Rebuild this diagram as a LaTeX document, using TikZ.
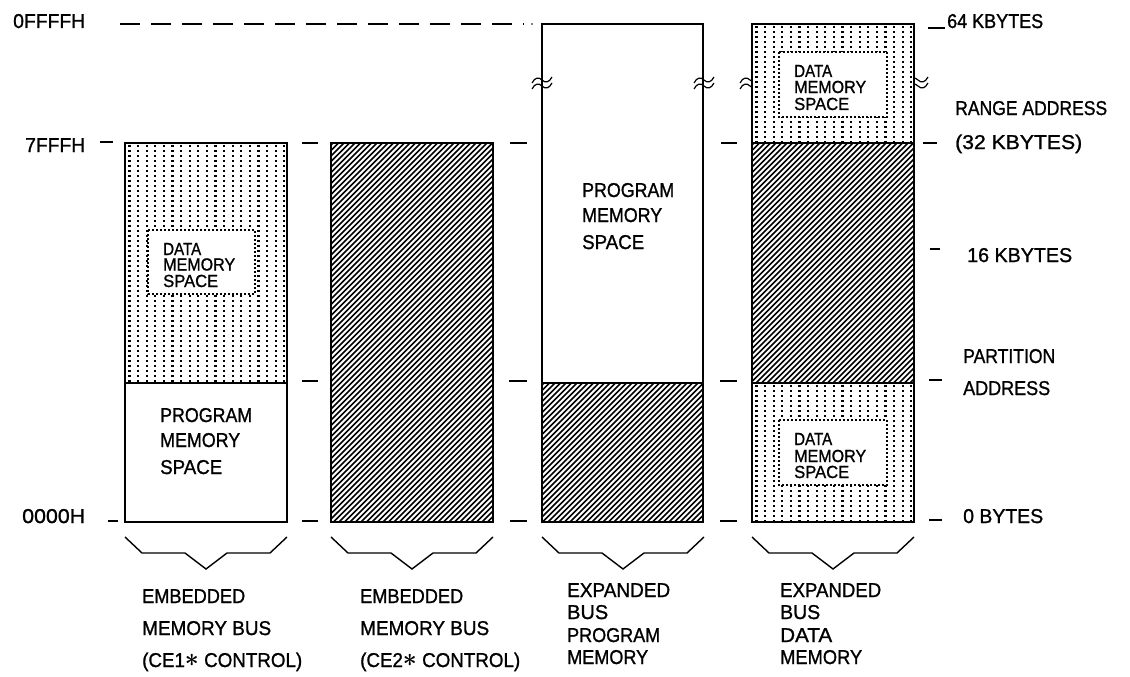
\documentclass[tikz,border=0pt]{standalone}
\usepackage{fontspec}
\usepackage{graphicx}
\setmainfont{Liberation Sans}[FakeBold=1.1]
\makeatletter
\newdimen\fwdim
\newcommand\fitw[2]{\sbox0{#2}\fwdim=\wd0\scalebox{\fpeval{#1/\strip@pt\fwdim}}[1]{\usebox0}}
\makeatother
\newcommand\astr{\raisebox{0.05ex}{\scalebox{1.25}{$\boldsymbol{\ast}$}}}
\usepackage{amsmath}
\newcommand\dotsarea[4]{%
  \begin{scope}
    \clip (#1,#2) rectangle (#3,#4);
    \pgfmathtruncatemacro\ndx{(#3-#1)/8.6}
    \pgfmathtruncatemacro\ndy{(#4-#2)/5}
    \foreach \i in {0,...,\ndx}{\foreach \j in {0,...,\ndy}{%
      \fill ({#1+3.3+\i*8.6},{#2+1.8+\j*5}) rectangle ++(2.2,2.2);}}
  \end{scope}}
\newcommand\hatcharea[4]{%
  \begin{scope}
    \clip (#1,#2) rectangle (#3,#4);
    \pgfmathsetmacro\hh{#4-#2}
    \pgfmathtruncatemacro\nh{((#3-#1)+(#4-#2))/5.5+1}
    \foreach \i in {0,...,\nh}{%
      \draw[line width=1.7pt] ({#1-\hh+\i*5.5},{#4+2}) -- ++({\hh+4},{-\hh-4});}
  \end{scope}}
\newcommand\wavy[2]{%
  \begin{scope}[shift={(#1,#2)}]
    \draw[wav] (-10,0) .. controls (-7,-6) and (-3,-6) .. (0,-3) .. controls (3,0) and (7,0) .. (10,-6);
    \draw[wav] (-10,6) .. controls (-7,0) and (-3,0) .. (0,3) .. controls (3,6) and (7,6) .. (10,0);
  \end{scope}}
\newcommand\bracket[1]{%
  \draw[line width=1.4pt,line join=miter] (#1,537) -- ++(17,16) -- ++(43,0) -- ++(21,16) -- ++(21,-16) -- ++(43,0) -- ++(17,-16);}
\begin{document}
\begin{tikzpicture}[x=1pt,y=-1pt,
  lab/.style={anchor=base west,inner sep=0pt,font=\fontsize{20}{20}\selectfont},
  sml/.style={anchor=base west,inner sep=0pt,font=\fontsize{17.5}{17.5}\selectfont},
  box/.style={line width=1.8pt},
  tick/.style={line width=1.6pt},
  wav/.style={line width=1.2pt},
  innerbox/.style={fill=white,line width=1.3pt,dash pattern=on 1.6pt off 2.4pt}]
\useasboundingbox[fill=white] (0,0) rectangle (1130,677);

% top dashed line
\draw[tick,dash pattern=on 20pt off 11pt] (120,24) -- (524,24);
\fill (532,24) circle (0.9);

% ticks
\foreach \a/\b/\y in {100/113/142, 302/318/143, 510/527/143, 721/737/143, 923/937/143,
  302/318/381, 509/527/381, 720/737/381, 929/942/380,
  108/118/521, 302/318/521, 510/527/521, 720/737/521, 929/942/520,
  930/940/249, 928/945/28}
  \draw[tick] (\a,\y) -- (\b,\y);

% column 4 wavy marks (hidden inside the box)
\wavy{750}{83}
\wavy{918}{83}
\fill[white] (752,24) rectangle (914,522);

% fills
\dotsarea{125}{143}{287}{383}
\dotsarea{752}{24}{914}{143}
\dotsarea{752}{383}{914}{522}
\hatcharea{331}{143}{493}{522}
\hatcharea{542}{383}{703}{522}
\hatcharea{752}{143}{914}{383}

% inner data boxes
\draw[innerbox] (148,230) rectangle (255,294);
\draw[innerbox] (779,52) rectangle (887,117);
\draw[innerbox] (779,420) rectangle (887,485);

% outer boxes
\draw[box] (125,143) rectangle (287,522);
\draw[box] (125,383) -- (287,383);
\draw[box] (331,143) rectangle (493,522);
\draw[box] (542,24) rectangle (703,522);
\draw[box] (542,383) -- (703,383);
\draw[box] (752,24) rectangle (914,522);
\draw[box] (752,143) -- (914,143);
\draw[box] (752,383) -- (914,383);

% column 3 wavy marks
\wavy{542}{83}
\wavy{704}{83}

% brackets
\bracket{125}
\bracket{331}
\bracket{542}
\bracket{752}

% left labels
\node[lab] (lFFFF) at (13,28) {\fitw{72}{0FFFFH}};
\node[lab] (l7FFF) at (25,152) {\fitw{60}{7FFFH}};
\node[lab] (l0000) at (22,523) {\fitw{63}{0000H}};

% right labels
\node[lab] (r64) at (947,28) {\fitw{96}{64 KBYTES}};
\node[lab] (rrange) at (955,115) {\fitw{152}{RANGE ADDRESS}};
\node[lab] (r32) at (955,149) {\fitw{127}{(32 KBYTES)}};
\node[lab] (r16) at (967,262) {\fitw{105}{16 KBYTES}};
\node[lab] (rpart) at (963,363) {\fitw{92}{PARTITION}};
\node[lab] (raddr) at (963,395) {\fitw{87}{ADDRESS}};
\node[lab] (r0) at (963,523) {\fitw{80}{0 BYTES}};

% in-box labels
\node[lab] (p1a) at (160,422) {\fitw{92}{PROGRAM}};
\node[lab] (p1b) at (160,447) {\fitw{80}{MEMORY}};
\node[lab] (p1c) at (160,474) {\fitw{62}{SPACE}};
\node[lab] (p3a) at (582,197) {\fitw{92}{PROGRAM}};
\node[lab] (p3b) at (582,222) {\fitw{80}{MEMORY}};
\node[lab] (p3c) at (582,249) {\fitw{62}{SPACE}};

\node[sml] (d1a) at (163,255) {\fitw{38}{DATA}};
\node[sml] (d1b) at (163,270.5) {\fitw{72}{MEMORY}};
\node[sml] (d1c) at (163,287) {\fitw{55}{SPACE}};
\node[sml] (d4a) at (794,77) {\fitw{38}{DATA}};
\node[sml] (d4b) at (794,93) {\fitw{72}{MEMORY}};
\node[sml] (d4c) at (794,110) {\fitw{55}{SPACE}};
\node[sml] (d5a) at (794,445) {\fitw{38}{DATA}};
\node[sml] (d5b) at (794,462) {\fitw{72}{MEMORY}};
\node[sml] (d5c) at (794,478) {\fitw{55}{SPACE}};

% bottom labels
\node[lab] (b1a) at (142,603) {\fitw{103}{EMBEDDED}};
\node[lab] (b1b) at (142,635) {\fitw{129}{MEMORY BUS}};
\node[lab] (b1c) at (142,667) {\fitw{160}{(CE1\astr\ CONTROL)}};
\node[lab] (b2a) at (360,603) {\fitw{103}{EMBEDDED}};
\node[lab] (b2b) at (360,635) {\fitw{129}{MEMORY BUS}};
\node[lab] (b2c) at (360,667) {\fitw{160}{(CE2\astr\ CONTROL)}};
\node[lab] (b3a) at (567,597) {\fitw{103}{EXPANDED}};
\node[lab] (b3b) at (567,619) {\fitw{41}{BUS}};
\node[lab] (b3c) at (567,642) {\fitw{93}{PROGRAM}};
\node[lab] (b3d) at (567,664) {\fitw{81}{MEMORY}};
\node[lab] (b4a) at (780,597) {\fitw{101}{EXPANDED}};
\node[lab] (b4b) at (780,619) {\fitw{40}{BUS}};
\node[lab] (b4c) at (780,642) {\fitw{52}{DATA}};
\node[lab] (b4d) at (780,664) {\fitw{82}{MEMORY}};
\end{tikzpicture}
\end{document}
